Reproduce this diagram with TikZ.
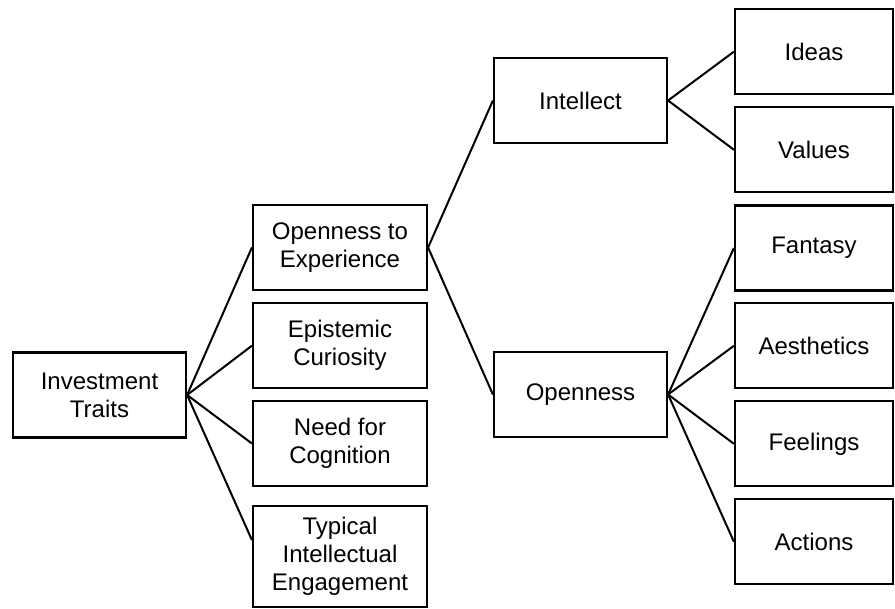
\documentclass[tikz,border=0pt]{standalone}
\usepackage{fontspec}
\setmainfont{Liberation Sans}
\usetikzlibrary{calc}

\begin{document}
\begin{tikzpicture}[x=1pt,y=-1pt,
  trait/.style={draw, line width=2.2pt, minimum width=173pt, minimum height=85pt, align=center, inner sep=0pt, font=\fontsize{24}{28}\selectfont},
  facet/.style={trait, minimum width=158pt},
  link/.style={line width=2pt}]
\useasboundingbox (0,0) rectangle (895,609);
\def\XL{99.5};\def\XM{340};\def\XI{580.5};\def\XR{814};
\node[trait] (inv) at (\XL,395) {Investment\\Traits};
\node[trait,minimum width=174pt] (ote) at (\XM,247.5) {Openness to\\Experience};
\node[trait,minimum width=174pt] (epi) at (\XM,345.7) {Epistemic\\Curiosity};
\node[trait,minimum width=174pt] (nfc) at (\XM,443.5) {Need for\\Cognition};
\node[trait,minimum width=174pt,minimum height=101pt] (tie) at (\XM,556.5) {Typical\\Intellectual\\Engagement};
\node[trait] (intel) at (\XI,100.5) {Intellect};
\node[trait] (opn) at (\XI,394.5) {Openness};
\node[facet] (ideas) at (\XR,51.7) {Ideas};
\node[facet] (values) at (\XR,149.8) {Values};
\node[facet] (fant) at (\XR,248) {Fantasy};
\node[facet] (aes) at (\XR,345.8) {Aesthetics};
\node[facet] (feel) at (\XR,443.8) {Feelings};
\node[facet] (act) at (\XR,541.8) {Actions};
\draw[link] (inv.east)--(ote.west); \draw[link] (inv.east)--(epi.west); \draw[link] (inv.east)--(nfc.west);
\draw[link] (inv.east)--($(tie.north west)!0.34!(tie.south west)$);
\draw[link] (ote.east)--(intel.west); \draw[link] (ote.east)--(opn.west);
\draw[link] (intel.east)--(ideas.west); \draw[link] (intel.east)--(values.west);
\foreach \f in {fant,aes,feel,act} \draw[link] (opn.east)--(\f.west);
\end{tikzpicture}
\end{document}
